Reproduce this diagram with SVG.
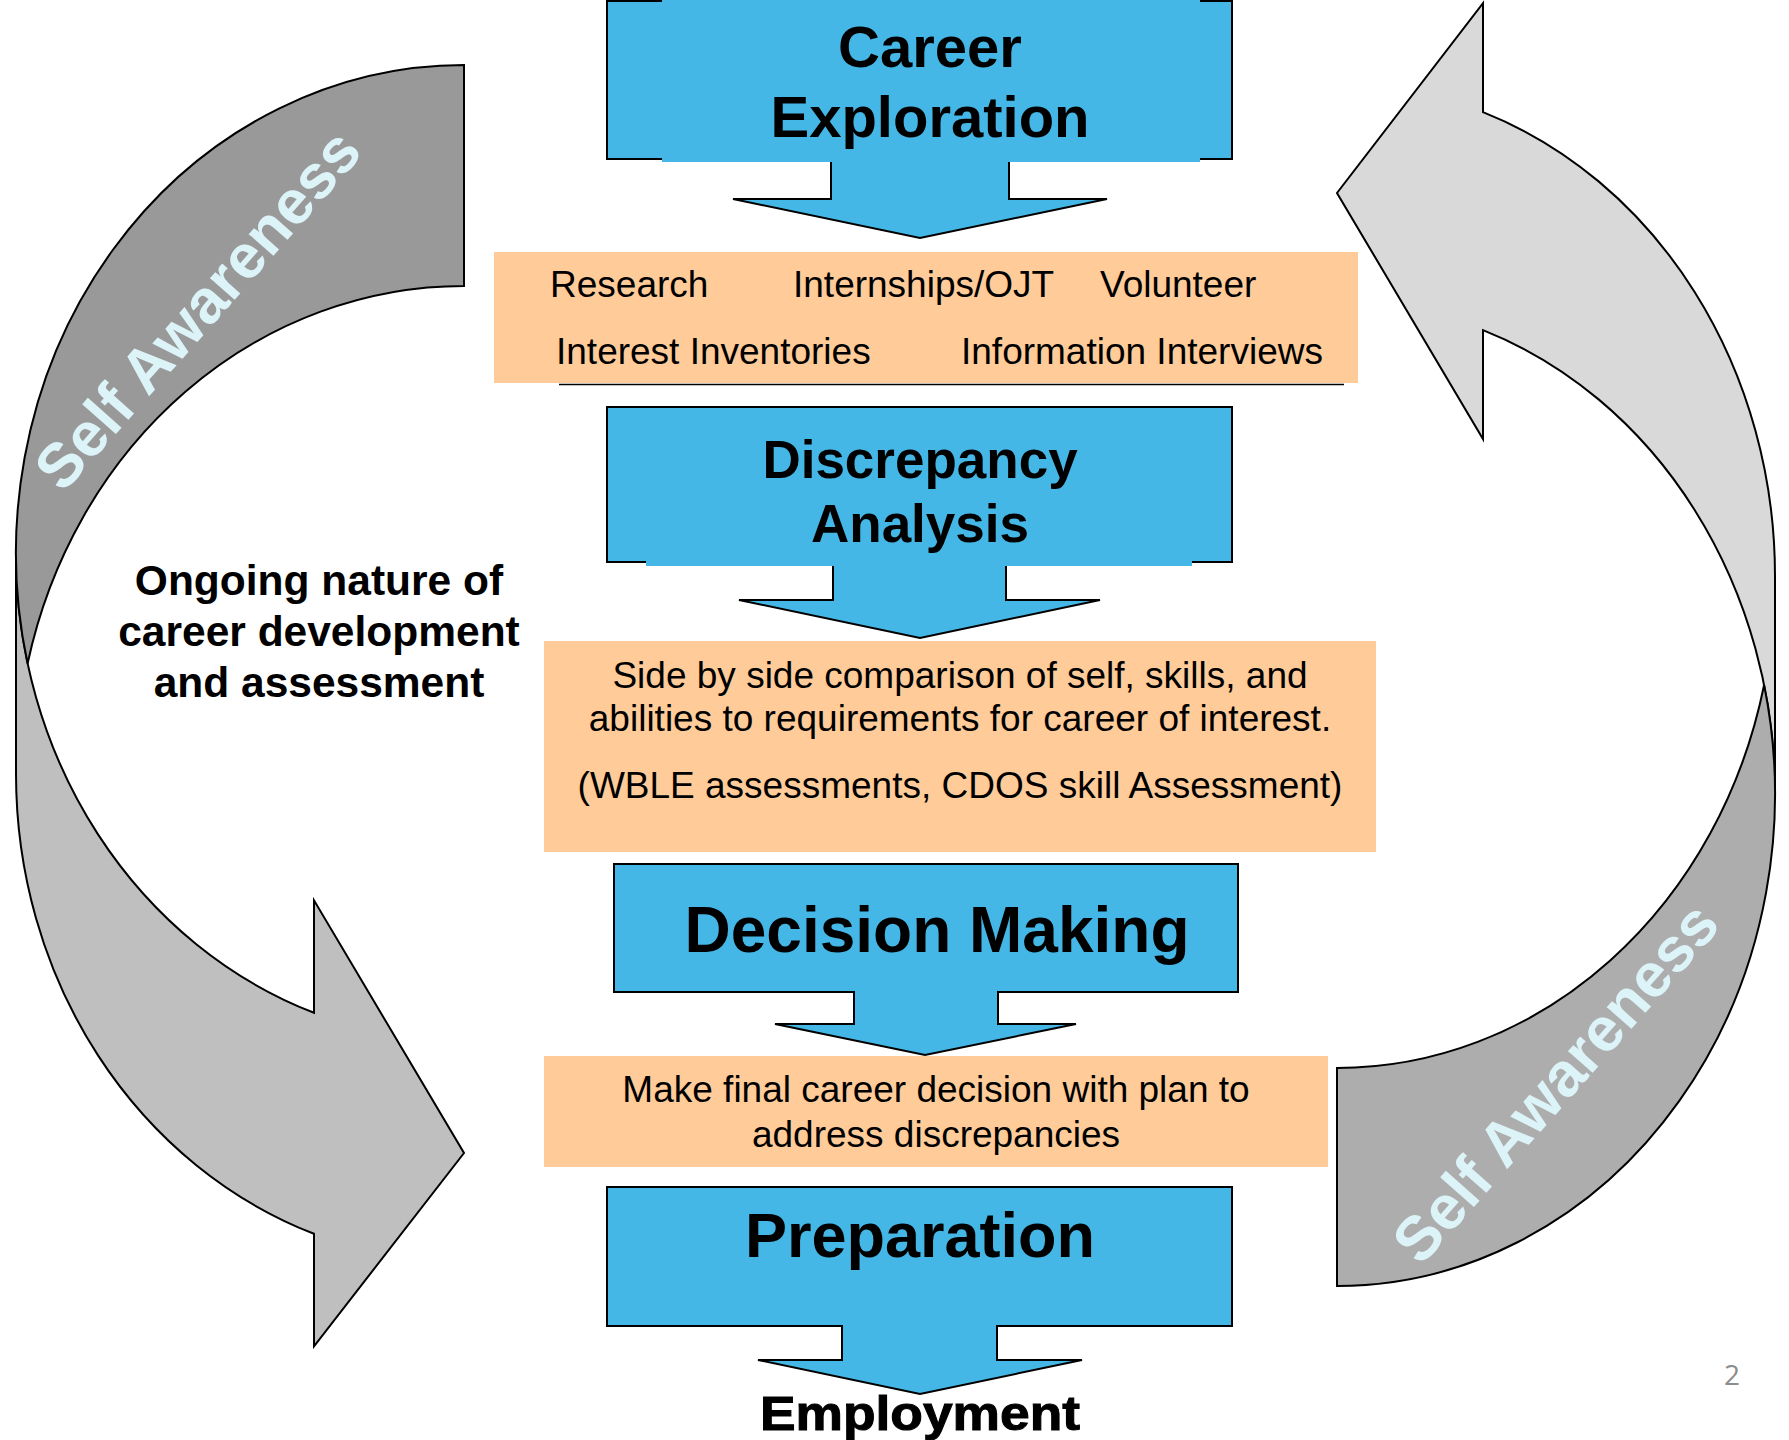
<svg xmlns="http://www.w3.org/2000/svg" width="1789" height="1440" viewBox="0 0 1789 1440">
  <defs>
    <style>
      .blk { fill: #44B7E6; stroke: #000; stroke-width: 2; stroke-linejoin: miter; }
      .cover { fill: #44B7E6; }
      .note { fill: #FFCB98; }
      .head { font-family: "Liberation Sans", Arial, sans-serif; font-weight: bold; fill: #000; text-anchor: middle; }
      .body { font-family: "Liberation Sans", Arial, sans-serif; font-size: 37px; fill: #000; }
      .mid { text-anchor: middle; }
      .loop { stroke: #000; stroke-width: 2; stroke-linejoin: miter; }
      .aware { font-family: "Liberation Sans", Arial, sans-serif; font-weight: bold; font-size: 62px; fill: #DCF3F8; text-anchor: middle; }
    </style>
  </defs>

  <rect x="0" y="0" width="1789" height="1440" fill="#fff"/>

  <!-- cycle arrows on both sides -->
  <g id="connectors">
    <g id="loop-left">
      <path class="loop" fill="#BFBFBF" d="M 16 553 A 448 488 0 0 0 314 1012.8 L 314 900.3 L 464 1153 L 314 1346.3 L 314 1233.8 A 448 488 0 0 1 16 774 Z"/>
      <path class="loop" fill="#999999" d="M 464 65 A 448 488 0 0 0 27.6 663.5 A 448 488 0 0 1 464 286 Z"/>
      <text class="aware" transform="translate(197 309) rotate(-48.5)" y="22">Self Awareness</text>
    </g>
    <g id="loop-right">
      <path class="loop" fill="#D9D9D9" d="M 1775 794 A 438 492 0 0 0 1483 330.1 L 1483 439.1 L 1337 193 L 1483 3.1 L 1483 112.1 A 438 492 0 0 1 1775 576 Z"/>
      <path class="loop" fill="#ADADAD" d="M 1337 1286 A 438 492 0 0 0 1764.1 685 A 438 492 0 0 1 1337 1068 Z"/>
      <text class="aware" transform="translate(1555 1082) rotate(-48.5)" y="22">Self Awareness</text>
    </g>
  </g>

  <!-- step 1 -->
  <g id="career-exploration">
    <path class="blk" d="M 607 1 H 1232 V 159 H 1009 V 199 H 1107 L 920 238 L 733 199 H 831 V 159 H 607 Z"/>
    <rect class="cover" x="662" y="0" width="538" height="162"/>
    <text class="head" font-size="58" x="930" y="67">Career</text>
    <text class="head" font-size="58" x="930" y="137">Exploration</text>
  </g>

  <g id="exploration-activities">
    <rect class="note" x="494" y="252" width="864" height="131"/>
    <line x1="559" y1="384.5" x2="1344" y2="384.5" stroke="#000" stroke-width="1.5"/>
    <text class="body" x="550" y="297">Research</text>
    <text class="body" x="793" y="297">Internships/OJT</text>
    <text class="body" x="1100" y="297">Volunteer</text>
    <text class="body" x="556" y="364">Interest Inventories</text>
    <text class="body" x="961" y="364">Information Interviews</text>
  </g>

  <!-- step 2 -->
  <g id="discrepancy-analysis">
    <path class="blk" d="M 607 407 H 1232 V 562 H 1006 V 600 H 1100 L 920 638 L 739 600 H 833 V 562 H 607 Z"/>
    <rect class="cover" x="646" y="420" width="546" height="146"/>
    <text class="head" font-size="53" x="920" y="478">Discrepancy</text>
    <text class="head" font-size="53" x="920" y="542">Analysis</text>
  </g>

  <g id="comparison-note">
    <rect class="note" x="544" y="641" width="832" height="211"/>
    <text class="body mid" x="960" y="688">Side by side comparison of self, skills, and</text>
    <text class="body mid" x="960" y="731">abilities to requirements for career of interest.</text>
    <text class="body mid" x="960" y="798">(WBLE assessments, CDOS skill Assessment)</text>
  </g>

  <!-- step 3 -->
  <g id="decision-making">
    <path class="blk" d="M 614 864 H 1238 V 992 H 998 V 1024 H 1076 L 925 1055 L 775 1024 H 854 V 992 H 614 Z"/>
    <text class="head" font-size="64" x="937" y="952">Decision Making</text>
  </g>

  <g id="decision-note">
    <rect class="note" x="544" y="1056" width="784" height="111"/>
    <text class="body mid" x="936" y="1102">Make final career decision with plan to</text>
    <text class="body mid" x="936" y="1147">address discrepancies</text>
  </g>

  <!-- step 4 -->
  <g id="preparation">
    <path class="blk" d="M 607 1187 H 1232 V 1326 H 997 V 1360 H 1082 L 920 1394 L 758 1360 H 842 V 1326 H 607 Z"/>
    <text class="head" font-size="63" x="920" y="1257">Preparation</text>
  </g>

  <g id="employment">
    <text class="head" font-size="48" x="920" y="1430" textLength="320" lengthAdjust="spacingAndGlyphs" stroke="#000" stroke-width="1">Employment</text>
  </g>

  <g id="cycle-caption">
    <text class="head" font-size="42.5" x="319" y="595">Ongoing nature of</text>
    <text class="head" font-size="42.5" x="319" y="646">career development</text>
    <text class="head" font-size="42.5" x="319" y="697">and assessment</text>
  </g>

  <text x="1732" y="1385" font-family="'Open Sans', sans-serif" font-size="28" fill="#8C8C8C" text-anchor="middle">2</text>
</svg>
